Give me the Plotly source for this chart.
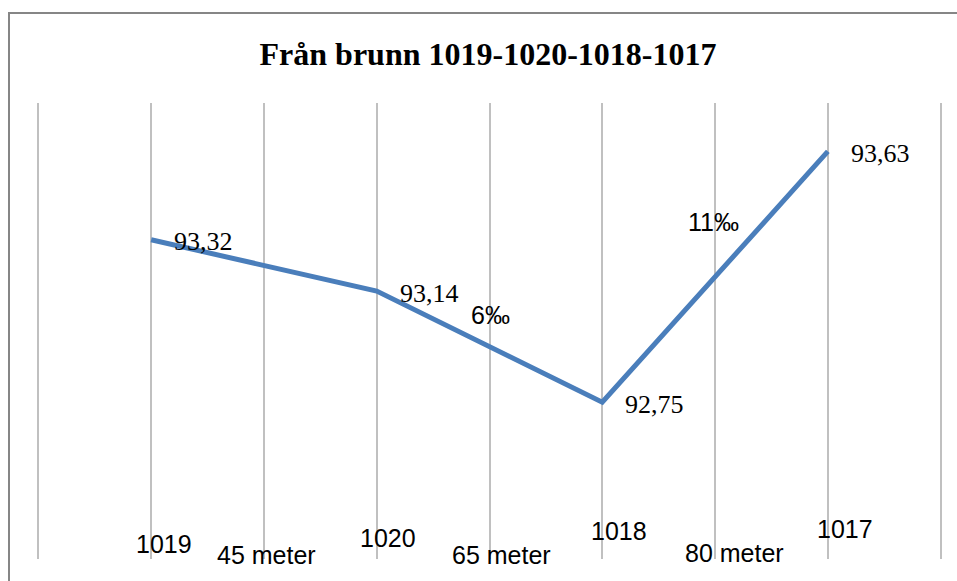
import plotly.graph_objects as go

# Data
wells = ["1019", "1020", "1018", "1017"]
levels = [93.32, 93.14, 92.75, 93.63]
level_labels = ["93,32", "93,14", "92,75", "93,63"]
distances = ["45 meter", "65 meter", "80 meter"]
slope_labels = ["6‰", "11‰"]
title_text = "Från brunn 1019-1020-1018-1017"

# x positions on a category grid (wells on every other grid line)
well_x = [1, 3, 5, 7]
dist_x = [2, 4, 6]

SANS = "Liberation Sans"
SERIF = "Liberation Serif"

# plot area geometry (pixels)
L, R, T, B = 35, 13, 103, 22
W, H = 957, 581
PW, PH = W - L - R, H - T - B


def px2paper_x(px):
    return (px - L) / PW


def py2paper_y(py):
    return (H - B - py) / PH


fig = go.Figure()
fig.add_trace(go.Scatter(
    x=well_x, y=levels, mode="lines",
    line=dict(color="#4a7ebb", width=5),
    hoverinfo="skip", showlegend=False,
))

ann = []
# value labels to the right of each point
for xv, yv, t in zip(well_x, levels, level_labels):
    ann.append(dict(x=xv, y=yv, xref="x", yref="y", text=t, showarrow=False,
                    xanchor="left", yanchor="middle", xshift=21, yshift=-2,
                    font=dict(family=SERIF, size=26, color="black")))

# category labels (staggered as in the reference)
well_dx = [13, 11, 17, 17]
well_py = [544, 538, 531, 529]
for xv, t, dx, py in zip(well_x, wells, well_dx, well_py):
    ann.append(dict(x=xv, y=py2paper_y(py), xref="x", yref="paper", text=t,
                    showarrow=False, xanchor="center", yanchor="middle", xshift=dx,
                    font=dict(family=SANS, size=25, color="black")))
dist_dx = [3, 12, 19]
dist_py = [555, 555, 553]
for xv, t, dx, py in zip(dist_x, distances, dist_dx, dist_py):
    ann.append(dict(x=xv, y=py2paper_y(py), xref="x", yref="paper", text=t,
                    showarrow=False, xanchor="center", yanchor="middle", xshift=dx,
                    font=dict(family=SANS, size=25, color="black")))

# slope labels
slope_pos = [(491, 315), (713, 222)]
for t, (px, py) in zip(slope_labels, slope_pos):
    ann.append(dict(x=px2paper_x(px), y=py2paper_y(py), xref="paper", yref="paper",
                    text=t, showarrow=False, xanchor="center", yanchor="middle",
                    font=dict(family=SANS, size=25, color="black")))

fig.update_layout(
    width=W, height=H,
    margin=dict(l=L, r=R, t=T, b=B),
    paper_bgcolor="white", plot_bgcolor="white",
    title=dict(text=title_text, x=px2paper_x(488), xref="paper", xanchor="center",
               y=1 - 54 / H, yref="container", yanchor="middle",
               font=dict(family=SERIF, size=32, color="black", weight="bold")),
    xaxis=dict(range=[-0.03, 8.03], tickvals=list(range(9)), showticklabels=False,
               showgrid=True, gridcolor="#c0c0c0", gridwidth=1.5,
               zeroline=False, showline=False, ticks=""),
    yaxis=dict(range=[92.2, 93.8], showgrid=False, showticklabels=False,
               zeroline=False, showline=False, ticks=""),
    annotations=ann,
    shapes=[dict(type="rect", xref="paper", yref="paper",
                 x0=px2paper_x(9), x1=px2paper_x(975),
                 y0=py2paper_y(600), y1=py2paper_y(13),
                 line=dict(color="#868686", width=2), fillcolor="rgba(0,0,0,0)",
                 layer="below")],
)

fig.write_html("out.html",
               config={"displayModeBar": False},
               post_script="document.body.style.margin='0';document.body.style.overflow='hidden';")
